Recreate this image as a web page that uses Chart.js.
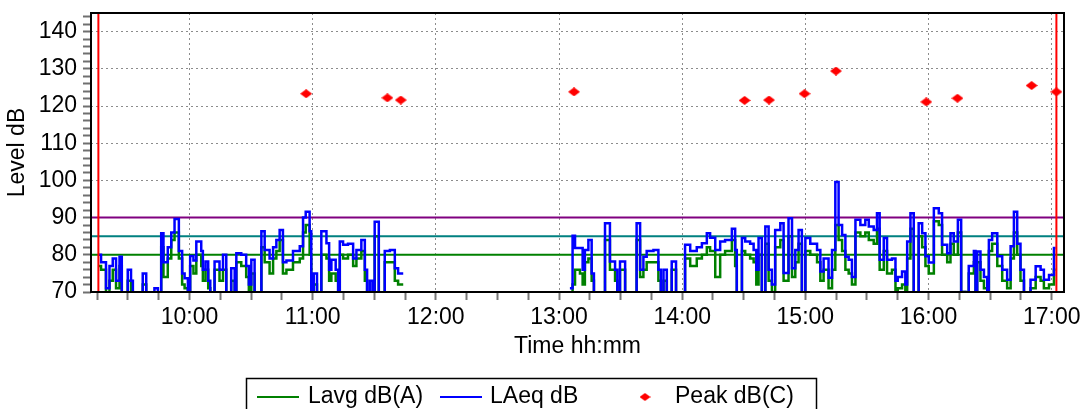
<!DOCTYPE html>
<html>
<head>
<meta charset="utf-8">
<script src="https://cdn.jsdelivr.net/npm/chart.js@4.4.1/dist/chart.umd.min.js"></script>
<style>
  html, body { margin: 0; padding: 0; background: #fff; }
  #wrap { width: 1086px; height: 409px; }
</style>
</head>
<body>
<div id="wrap"><canvas id="levelChart"></canvas></div>
<script>
// logging steps, minutes after midnight (each value holds until the next time, null = no data)
const times = [
  555.6, 556.9, 559.3, 561.0, 562.6, 564.2, 565.9, 567.0, 569.9, 571.5, 572.4, 577.2, 578.9, 582.9, 584.6,
  586.2, 587.3, 589.4, 591.1, 592.7, 594.8, 596.4, 597.6, 599.2, 600.3, 601.9, 603.3, 605.7, 606.5, 607.8,
  609.1, 610.1, 612.2, 614.6, 616.3, 617.9, 620.3, 622.0, 622.8, 625.2, 627.6, 628.9, 630.1, 631.7, 635.0,
  636.6, 639.0, 640.7, 642.3, 643.9, 645.5, 647.2, 650.4, 653.7, 655.3, 656.6, 658.5, 659.3, 660.5, 662.1,
  664.2, 666.7, 668.0, 669.1, 671.2, 672.4, 673.2, 674.8, 677.2, 679.7, 681.3, 683.7, 685.4, 686.5, 687.8,
  689.1, 690.2, 692.2, 695.1, 697.6, 700.0, 701.6, 704.1, 740.0,
  785.3, 786.6, 787.8, 790.2, 791.5, 792.6, 794.3, 795.9, 797.0, 802.4, 804.8, 807.3, 808.4, 809.7, 812.2,
  817.8, 819.5, 821.1, 822.7, 826.0, 828.4, 829.6, 830.9, 832.5, 834.9, 837.0, 841.4, 843.9, 847.1, 849.6,
  852.0, 853.6, 856.1, 858.5, 860.9, 864.2, 865.8, 866.6, 869.1, 870.7, 873.1, 874.8, 876.1, 877.2, 878.8,
  880.5, 882.1, 883.7, 885.3, 887.8, 889.4, 891.8, 893.5, 895.1, 896.7, 898.3, 900.0, 902.4, 905.7, 907.3,
  908.9, 911.3, 913.0, 914.6, 916.2, 917.9, 919.5, 921.1, 922.7, 924.4, 926.8, 929.2, 930.9, 933.3, 934.9,
  936.2, 938.2, 939.8, 942.2, 943.9, 945.0, 947.1, 948.7, 949.6, 951.2, 952.8, 955.2, 956.9, 958.5, 960.1,
  962.6, 965.0, 966.6, 969.1, 970.7, 972.3, 974.3, 975.9, 978.0, 979.6, 982.1, 982.9, 983.7, 985.3, 987.0,
  988.6, 989.4, 991.0, 993.5, 995.9, 998.3, 1000.0, 1001.6, 1003.2, 1004.8, 1006.5, 1009.7, 1012.2, 1014.6, 1016.2,
  1018.7, 1021.1, 1021.9
];
const laeq = [
  80, 78, 71, 77, 79, 73, 79.5, 65, 76, 73, 65, 75, 65, 71, 65,
  85.8, 78, 82, 86, 89.6, 81, 75, 73.7, 65, 79.7, 78.5, 83.6, 81, 76, 78.2,
  73, 65, 78.2, 76, 80, 65, 76.4, 65, 80.4, 80, 77, 72, 78.7, 65, 86.3,
  81.3, 79, 82, 84, 86.7, 78, 78.5, 81, 82.3, 90, 91.6, 86.3, 65, 75, 65,
  86.3, 83.1, 76, 78.7, 76, 65, 83.6, 82.7, 83, 79, 81.3, 84, 76, 65, 73,
  65, 88.9, 65, 81, 81.3, 76.4, 75, 75, null,
  71, 85.1, 81.8, 81.8, 76, 81.3, 84, 75, 65, 88.5, 78.2, 76, 65, 78.2, 65,
  88.5, 76, 79.5, 81, 81.3, 76, 65, 76, 65, 78.2, 65, 82.7, 81, 82, 83.1,
  85.8, 84.6, 81.3, 83.6, 84, 87, 81.3, 65, 84.5, 83.6, 83, 81.3, 76, 84.5, 65,
  87.6, 76, 72, 86.7, 88.5, 75.1, 89.8, 76.4, 81.3, 86.7, 65, 84.5, 83, 81.3, 75.5,
  79, 73.8, 81.3, 99.6, 88, 85.3, 79.5, 78.7, 74, 89.4, 88, 89.4, 87.6, 86.7, 91.2,
  78.7, 84.5, 78.7, 79, 73, 74, 75.5, 72, 83.6, 91.2, 65, 88.5, 85.8, 79.6, 77.9,
  92.5, 91.2, 82.7, 80.4, 85.8, 83.6, 89.4, 70, 69, 77, 81, 65, 80.9, 76, 74,
  65, 84, 85.8, 79.6, 76, 73.3, 82.3, 91.6, 83, 76, 65, 73.3, 76.9, 76, 73.3,
  74.6, 81.8, 81.8
];
const lavg = [
  77, 76, 69, 73, 76, 71, 77, 65, 73, 70, 65, 72, 65, 69, 65,
  82, 74, 79, 84, 86, 79, 72, 71, 65, 77, 75, 80, 77, 73, 76,
  71, 65, 76, 73, 76, 65, 73, 65, 78, 77, 74, 70, 75, 65, 82,
  78, 75, 79, 81, 84, 75, 76, 78, 79, 86, 88, 80, 65, 72, 65,
  80, 79, 73, 75, 73, 65, 80, 79, 80, 77, 79, 81, 73, 65, 70,
  65, 85, 65, 78, 78, 73, 72, 72, null,
  69, 72, 76, 75, 72, 78, 79, 73, 65, 84, 76, 73, 65, 76, 65,
  84, 74, 76, 78, 78, 73, 65, 73, 65, 76, 65, 79, 77, 79, 80,
  82, 81, 74, 80, 81, 84, 77, 65, 81, 80, 79, 78, 72, 80, 65,
  83, 73, 70, 82, 84, 73, 85, 74, 78, 83, 65, 81, 80, 78, 73,
  76, 71, 76, 88, 84, 81, 76, 75, 72, 86, 85, 86, 84, 83, 87,
  76, 81, 75, 76, 70, 71, 72, 70, 79, 87, 65, 85, 82, 77, 75,
  89, 88, 80, 78, 83, 80, 86, 70, 69, 75, 78, 65, 78, 73, 71,
  65, 81, 83, 77, 73, 71, 79, 86, 80, 73, 65, 71, 74, 73, 71,
  72, 76, 76
];
const peakTimes = [656.8, 696.4, 702.9, 787.3, 870.4, 882.3, 899.6, 914.9, 958.9, 974.1, 1010.2, 1022.3];
const peakLevels = [123.3, 122.2, 121.6, 123.8, 121.5, 121.6, 123.3, 129.4, 121.1, 122.1, 125.5, 123.8];
const cursorTimes = [555.6, 1022.3];
const limitLevels = [80, 85, 90];
const limitColors = ['#008000', '#008080', '#800080'];
const hourTicks = [600, 660, 720, 780, 840, 900, 960, 1020];
const hourLabels = ['10:00', '11:00', '12:00', '13:00', '14:00', '15:00', '16:00', '17:00'];
const levelTicks = [70, 80, 90, 100, 110, 120, 130, 140];
const xRange = [552, 1026];
const yRange = [70, 145];

Chart.defaults.font.family = '"Liberation Sans", Arial, sans-serif';
Chart.defaults.font.size = 23;
Chart.defaults.color = '#000';

function pts(xs, ys) {
  return xs.map((x, i) => ({ x: x, y: ys[i] }));
}

// red diamond used for the peak points and their legend entry
function diamond(w, h) {
  const c = document.createElement('canvas');
  c.width = w;
  c.height = h;
  const g = c.getContext('2d');
  g.fillStyle = '#ff0000';
  g.beginPath();
  g.moveTo(w / 2, 0);
  g.lineTo(w, h / 2);
  g.lineTo(w / 2, h);
  g.lineTo(0, h / 2);
  g.closePath();
  g.fill();
  return c;
}
const peakMark = diamond(12, 9);
const legendMark = diamond(11, 8);

const cursorData = [];
cursorTimes.forEach(t => {
  cursorData.push({ x: t, y: yRange[0] }, { x: t, y: yRange[1] }, { x: t, y: null });
});

const datasets = [
  {
    label: 'Peak dB(C)', data: pts(peakTimes, peakLevels), showLine: false,
    pointStyle: peakMark, pointRadius: 6, pointHoverRadius: 6,
    borderColor: '#ff0000', backgroundColor: '#ff0000', order: 0, inLegend: 2
  },
  {
    label: 'cursor', data: cursorData, borderColor: '#ff0000', borderWidth: 2,
    pointRadius: 0, order: 1
  },
  {
    label: 'LAeq dB', data: pts(times, laeq), stepped: true, borderColor: '#0000ff',
    borderWidth: 2.5, pointRadius: 0, order: 2, inLegend: 1
  },
  {
    label: 'Lavg dB(A)', data: pts(times, lavg), stepped: true, borderColor: '#008000',
    borderWidth: 2.5, pointRadius: 0, order: 3, inLegend: 0
  }
];
limitLevels.forEach((lv, i) => {
  datasets.push({
    label: 'limit ' + lv, data: pts(xRange, [lv, lv]), borderColor: limitColors[i],
    borderWidth: 2, pointRadius: 0, order: 4
  });
});

// plot frame and the boxed legend under the axis title
const legendSlots = [{ mark: 257, text: 308 }, { mark: 440, text: 490 }, { mark: 645, text: 675 }];
const framePlugin = {
  id: 'frame',
  afterDatasetsDraw(chart) {
    const { ctx, chartArea: a } = chart;
    ctx.save();
    ctx.strokeStyle = '#000';
    ctx.lineWidth = 2;
    ctx.strokeRect(a.left, a.top, a.right - a.left, a.bottom - a.top);
    ctx.restore();
  },
  afterDraw(chart) {
    const ctx = chart.ctx;
    const y = 397;
    ctx.save();
    ctx.strokeStyle = '#000';
    ctx.lineWidth = 1.5;
    ctx.strokeRect(246.5, 378.5, 570, 40);
    ctx.font = '23px "Liberation Sans", Arial, sans-serif';
    ctx.fillStyle = '#000';
    ctx.textBaseline = 'middle';
    chart.data.datasets.forEach(ds => {
      if (ds.inLegend === undefined) return;
      const slot = legendSlots[ds.inLegend];
      if (ds.showLine === false) {
        ctx.drawImage(legendMark, slot.mark - 5.5, y - 4);
      } else {
        ctx.strokeStyle = ds.borderColor;
        ctx.lineWidth = 2;
        ctx.beginPath();
        ctx.moveTo(slot.mark, y);
        ctx.lineTo(slot.mark + 42, y);
        ctx.stroke();
      }
      ctx.fillText(ds.label, slot.text, y);
    });
    ctx.restore();
  }
};

const gridGrey = '#8c8c8c';
new Chart(document.getElementById('levelChart'), {
  type: 'line',
  data: { datasets: datasets },
  options: {
    responsive: true,
    maintainAspectRatio: false,
    animation: false,
    devicePixelRatio: 1,
    spanGaps: false,
    layout: { padding: { top: 13, right: 22, bottom: 49, left: 0 } },
    plugins: { legend: { display: false }, tooltip: { enabled: false } },
    scales: {
      x: {
        type: 'linear',
        min: xRange[0],
        max: xRange[1],
        afterBuildTicks: scale => {
          const t = [];
          for (let v = Math.ceil(xRange[0] / 15) * 15; v <= xRange[1]; v += 15) t.push({ value: v });
          scale.ticks = t;
        },
        afterFit: scale => {
          scale.height = 68;
          scale.paddingLeft = 0;
          scale.paddingRight = 0;
        },
        ticks: {
          autoSkip: false, maxRotation: 0, padding: 4,
          callback: v => {
            const i = hourTicks.indexOf(v);
            return i >= 0 ? hourLabels[i] : '';
          }
        },
        grid: {
          color: c => (c.tick && hourTicks.includes(c.tick.value)) ? gridGrey : 'rgba(0,0,0,0)',
          tickColor: '#777', tickLength: 8, tickWidth: 2
        },
        border: { display: false, dash: [2, 3] },
        title: { display: true, text: 'Time hh:mm', padding: { top: 0, bottom: 0 } }
      },
      y: {
        min: yRange[0],
        max: yRange[1],
        afterBuildTicks: scale => {
          const t = [];
          for (let v = yRange[0]; v < yRange[1]; v += 2) t.push({ value: v });
          scale.ticks = t;
        },
        afterFit: scale => {
          scale.width = 91;
          scale.paddingTop = 0;
          scale.paddingBottom = 0;
        },
        ticks: {
          autoSkip: false, padding: 6,
          callback: v => levelTicks.includes(v) ? String(v) : ''
        },
        grid: {
          color: c => (c.tick && levelTicks.includes(c.tick.value) && c.tick.value > yRange[0]) ? gridGrey : 'rgba(0,0,0,0)',
          tickColor: '#6f6f6f', tickLength: 8, tickWidth: 2
        },
        border: { display: false, dash: [2, 3] },
        title: { display: true, text: 'Level dB', padding: { top: 4, bottom: 0 } }
      }
    }
  },
  plugins: [framePlugin]
});
</script>
</body>
</html>
